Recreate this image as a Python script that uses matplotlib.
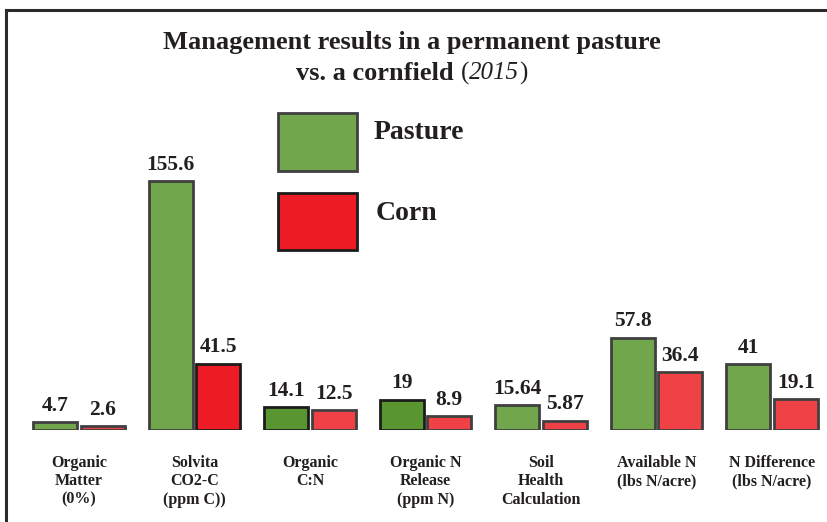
import numpy as np
import matplotlib.pyplot as plt
from matplotlib.lines import Line2D
from matplotlib.patches import Rectangle

categories = ["Organic\nMatter\n(0%)", "Solvita\nCO2-C\n(ppm C))", "Organic\nC:N",
              "Organic N\nRelease\n(ppm N)", "Soil\nHealth\nCalculation",
              "Available N\n(lbs N/acre)", "N Difference\n(lbs N/acre)"]
pasture = [4.7, 155.6, 14.1, 19, 15.64, 57.8, 41]
corn = [2.6, 41.5, 12.5, 8.9, 5.87, 36.4, 19.1]
pasture_labels = ["4.7", "155.6", "14.1", "19", "15.64", "57.8", "41"]
corn_labels = ["2.6", "41.5", "12.5", "8.9", "5.87", "36.4", "19.1"]

# styles (the original mixes a few shades)
green = "#72a64d"
dark_green = "#5a9630"
red = "#ed1c24"
light_red = "#ef4146"
gray_edge = "#404040"
black_edge = "#1c1c1c"
pasture_face = [green, green, dark_green, dark_green, green, green, green]
pasture_edge = [gray_edge, gray_edge, black_edge, black_edge, gray_edge, gray_edge, gray_edge]
corn_face = [light_red, red, light_red, light_red, light_red, light_red, light_red]
corn_edge = [gray_edge, black_edge, gray_edge, gray_edge, gray_edge, gray_edge, gray_edge]

serif = "Liberation Serif"
ink = "#231f20"
W, H = 828, 522

fig = plt.figure(figsize=(W / 100, H / 100), dpi=100)
fig.patch.set_facecolor("white")

# axes placed in pixel terms: baseline at y=430, 1.6 px per unit
ax_left, ax_right = 27, 824
ax_bottom, ax_top = 430, 170
ax = fig.add_axes([ax_left / W, 1 - ax_bottom / H, (ax_right - ax_left) / W, (ax_bottom - ax_top) / H])
ax.set_xlim(-0.45, 6.45)
ax.set_ylim(0, 162.5)
ax.axis("off")

x = np.arange(len(categories))
width = 0.38
off = 0.205

b1 = ax.bar(x - off, pasture, width, color=pasture_face, edgecolor=pasture_edge, linewidth=2)
b2 = ax.bar(x + off, corn, width, color=corn_face, edgecolor=corn_edge, linewidth=2)

for bars, labs in [(b1, pasture_labels), (b2, corn_labels)]:
    for rect, lab in zip(bars, labs):
        ax.annotate(lab, (rect.get_x() + rect.get_width() / 2, rect.get_height()),
                    xytext=(0, 4.5), textcoords="offset points", ha="center", va="bottom",
                    fontsize=15.5, fontweight="bold", family=serif, color=ink)

for xi, cat in zip(x, categories):
    ax.text(xi, -0.095, cat, transform=ax.get_xaxis_transform(), ha="center", va="top",
            fontsize=11.5, fontweight="bold", family=serif, color=ink, linespacing=1.2)

# title
fig.text(412 / W, 1 - 42 / H, "Management results in a permanent pasture", ha="center", va="center",
         fontsize=19, fontweight="bold", family=serif, color=ink)
t1 = fig.text(0, 1 - 73 / H, "vs. a cornfield ", ha="left", va="center",
              fontsize=19, fontweight="bold", family=serif, color=ink)
t2 = fig.text(0, 1 - 73 / H, "(", ha="left", va="center", fontsize=18, family=serif, color=ink)
t3 = fig.text(0, 1 - 73 / H, "2015", ha="left", va="center", fontsize=18, style="italic",
              family=serif, color=ink)
t4 = fig.text(0, 1 - 73 / H, ")", ha="left", va="center", fontsize=18, family=serif, color=ink)
r = fig.canvas.get_renderer()
parts = [t1, t2, t3, t4]
widths = [p.get_window_extent(r).width for p in parts]
xpos = 412 - sum(widths) / 2
for p, w in zip(parts, widths):
    p.set_x(xpos / W)
    xpos += w

# legend boxes
fig.add_artist(Rectangle((278 / W, 1 - 171 / H), 79 / W, 58 / H, transform=fig.transFigure,
                         facecolor=green, edgecolor=gray_edge, linewidth=2))
fig.add_artist(Rectangle((278 / W, 1 - 250 / H), 79 / W, 57 / H, transform=fig.transFigure,
                         facecolor=red, edgecolor=black_edge, linewidth=2))
fig.text(374 / W, 1 - 133 / H, "Pasture", ha="left", va="center", fontsize=20,
         fontweight="bold", family=serif, color=ink)
fig.text(376 / W, 1 - 213 / H, "Corn", ha="left", va="center", fontsize=20,
         fontweight="bold", family=serif, color=ink)

# frame (cropped box: top and left edges only)
fig.add_artist(Line2D([6.5 / W, 1], [1 - 9.5 / H, 1 - 9.5 / H], transform=fig.transFigure,
                      color="#2b2b2b", linewidth=2.2))
fig.add_artist(Line2D([6.5 / W, 6.5 / W], [0, 1 - 9.5 / H], transform=fig.transFigure,
                      color="#2b2b2b", linewidth=2.2))

fig.savefig("out.png", dpi=100)
